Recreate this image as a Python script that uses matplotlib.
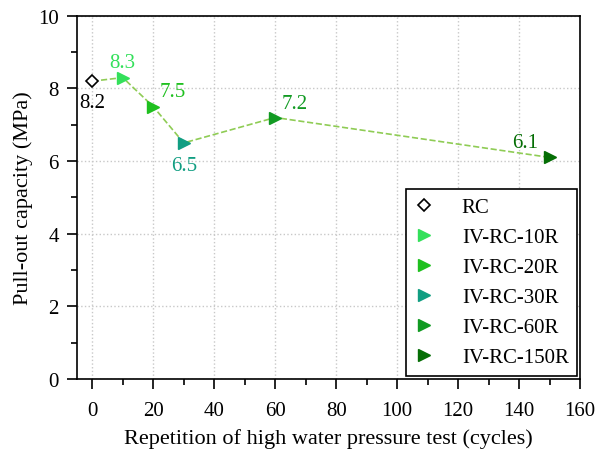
import matplotlib
matplotlib.use('Agg')
import matplotlib.pyplot as plt
from matplotlib.ticker import MultipleLocator

plt.rcParams['font.family'] = ['Liberation Serif', 'DejaVu Serif']

# data
cycles = [0, 10, 20, 30, 60, 150]
capacity = [8.2, 8.3, 7.5, 6.5, 7.2, 6.1]
names = ['RC', 'IV-RC-10R', 'IV-RC-20R', 'IV-RC-30R', 'IV-RC-60R', 'IV-RC-150R']
colors = ['black', '#33e05a', '#1fc01f', '#119e82', '#119a22', '#056e05']
markers = ['D', '>', '>', '>', '>', '>']
label_offsets = [(0, -15), (0, 11), (14, 11), (0, -16), (14, 10), (-18, 11)]

fig = plt.figure(figsize=(6.04, 4.56), dpi=100)
ax = fig.add_axes([0.1275, 0.167, 0.833, 0.796])

ax.plot(cycles, capacity, linestyle='--', color='#8fcc55', linewidth=1.2, zorder=2)
for x, y, n, c, m, off in zip(cycles, capacity, names, colors, markers, label_offsets):
    if m == 'D':
        ax.plot(x, y, marker=m, markersize=6, markerfacecolor='white',
                markeredgecolor=c, markeredgewidth=1.2, linestyle='none', label=n, zorder=3)
    else:
        ax.plot(x, y, marker=m, markersize=9, color=c, linestyle='none', label=n, zorder=3)
    ax.annotate(f'{y}', (x, y), xytext=off, textcoords='offset points',
                ha='center', va='center', fontsize=15, color=c)

ax.set_xlim(-5, 160)
ax.set_ylim(0, 10)
ax.xaxis.set_major_locator(MultipleLocator(20))
ax.xaxis.set_minor_locator(MultipleLocator(10))
ax.yaxis.set_major_locator(MultipleLocator(2))
ax.yaxis.set_minor_locator(MultipleLocator(1))
ax.tick_params(which='major', direction='out', length=7, width=1.2, labelsize=15, pad=6)
ax.tick_params(which='minor', direction='out', length=4, width=1.2)
ax.tick_params(axis='x', which='major', pad=9)
ax.grid(True, which='major', linestyle=':', color='#c8c8c8', linewidth=1)
for s in ax.spines.values():
    s.set_linewidth(1.2)

ax.set_xlabel('Repetition of high water pressure test (cycles)', fontsize=16, labelpad=6)
ax.set_ylabel('Pull-out capacity (MPa)', fontsize=16, labelpad=4)

leg = ax.legend(loc='lower right', fontsize=15, frameon=True, fancybox=False,
                edgecolor='black', framealpha=1, borderaxespad=0.15,
                handlelength=1.0, handletextpad=1.3, labelspacing=0.5,
                borderpad=0.4)
leg.get_frame().set_linewidth(1.2)

fig.savefig('out.png', dpi=100)
